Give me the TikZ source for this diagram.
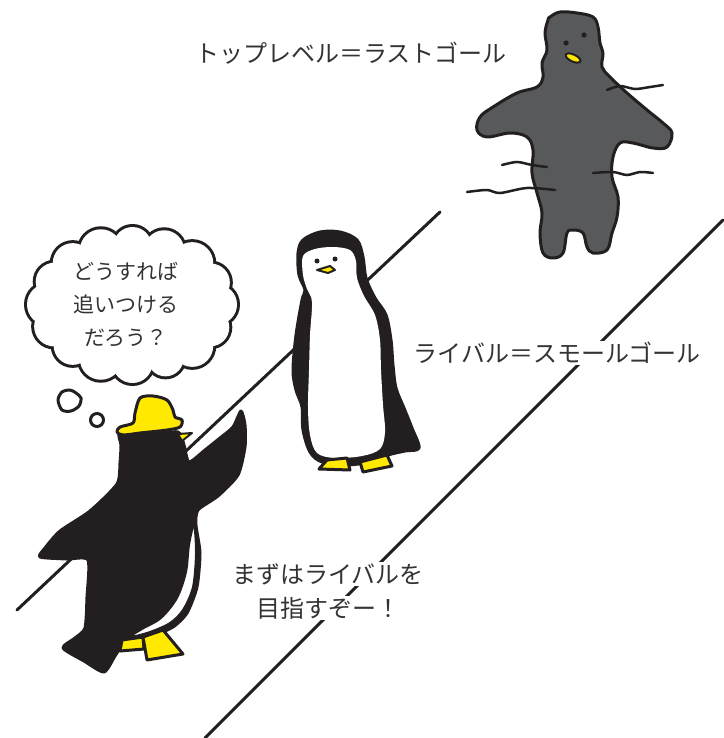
\documentclass[tikz,border=0pt]{standalone}
\usepackage{fontspec}
\newfontfamily\jpfont{Noto Sans CJK JP}
\usetikzlibrary{positioning}
\usepackage{xcolor}

\definecolor{ink}{HTML}{231F20}
\definecolor{pyellow}{HTML}{FFE900}
\definecolor{rockgray}{HTML}{58595B}
\definecolor{txtgray}{HTML}{333333}

\tikzset{
  outline/.style={draw=ink,line width=3pt,line join=round,line cap=round},
  road/.style={draw=ink,line width=3pt,line cap=round},
  wiggle/.style={draw=ink,line width=2.5pt,line cap=round},
  jptext/.style={font=\jpfont\fontsize{24pt}{28pt}\selectfont,text=txtgray,fill=white,inner sep=1pt},
  thinktext/.style={font=\jpfont\fontsize{21pt}{33pt}\selectfont,text=txtgray,align=center,inner sep=0pt}
}

\begin{document}
\begin{tikzpicture}[x=1pt,y=-1pt]
\useasboundingbox[fill=white] (0,0) rectangle (723,738);

% Strada
\draw[road] (440,212) -- (17,610);
\draw[road] (723,220) -- (205,738);

% Obiettivo finale (sagoma grigia)
\filldraw[outline,fill=rockgray] plot[smooth cycle,tension=0.6] coordinates {
  (550,17) (560,12) (577,13) (593,17) (598,27) (600,43) (603,53) (602,67)
  (610,77) (627,93) (647,110) (663,123) (672,133) (667,147) (653,148) (633,143)
  (620,143) (613,157) (612,177) (618,197) (617,217) (612,233) (607,250) (593,253)
  (587,247) (583,233) (573,230) (567,233) (563,253) (553,258) (543,253) (540,233)
  (542,213) (537,193) (532,173) (533,150) (527,137) (510,133) (487,137) (477,130)
  (480,117) (493,107) (517,93) (537,87) (543,77) (542,63) (547,50) (545,33) (548,20)};
\fill[ink] (566,43) circle (2.6pt) (584,35) circle (2.6pt);
\filldraw[fill=pyellow,draw=ink,line width=2pt,rotate around={-25:(573,58)}] (573,58) ellipse (8 and 3.5);
\draw[wiggle] plot[smooth] coordinates {(607,90) (620,86) (635,89) (650,87) (663,85)};
\draw[wiggle] plot[smooth] coordinates {(502,165) (517,162) (532,165) (547,167)};
\draw[wiggle] plot[smooth] coordinates {(467,192) (487,190) (500,193) (527,188) (555,190)};
\draw[wiggle] plot[smooth] coordinates {(593,173) (613,172) (627,175) (640,172) (653,173)};

% Pinguino rivale
\filldraw[outline,fill=ink] plot[smooth cycle,tension=0.55] coordinates {
  (298,253) (303,240) (320,232) (340,232) (357,240) (363,257) (366,278) (375,298)
  (386,315) (391,340) (393,365) (396,388) (404,408) (412,428) (419,448) (405,451)
  (388,455) (370,462) (345,465) (322,462) (310,452) (303,430) (302,407) (296,390)
  (293,370) (296,335) (302,300) (305,290) (299,275)};
\fill[white] plot[smooth cycle,tension=0.55] coordinates {
  (303,256) (315,249) (333,247) (350,250) (356,261) (357,278) (364,296) (375,315)
  (380,340) (381,370) (383,405) (385,432) (380,449) (362,456) (335,458) (317,453)
  (310,435) (308,407) (309,370) (310,335) (312,302) (307,289) (303,275)};
\fill[ink] (317,261) circle (2.5pt) (335,259) circle (2.5pt);
\filldraw[outline,line width=2pt,fill=pyellow] (317,270) -- (330,266) -- (335,270) -- (328,273) -- cycle;
\filldraw[outline,fill=pyellow] (319,469) -- (327,460) -- (347,458) -- (350,470) -- cycle;
\filldraw[outline,fill=pyellow] (360,462) -- (387,455) -- (392,466) -- (363,472) -- cycle;

% Nuvoletta
\begin{scope}[shift={(132.5,304.5)}]
  \foreach \a/\r in {0/20,23/19,45/21,67/18,90/20,112/21,135/19,158/20,
                     180/21,203/19,225/20,248/21,270/19,292/20,315/21,338/19}
    \draw[ink,line width=6pt] (\a:84.5 and 58.5) circle (\r);
  \foreach \a/\r in {0/20,23/19,45/21,67/18,90/20,112/21,135/19,158/20,
                     180/21,203/19,225/20,248/21,270/19,292/20,315/21,338/19}
    \fill[white] (\a:84.5 and 58.5) circle (\r);
  \fill[white] (0,0) ellipse (84.5 and 58.5);
\end{scope}
\filldraw[outline,fill=white] plot[smooth cycle] coordinates {
  (58,400) (62,392) (70,390) (76,393) (81,398) (79,406) (71,411) (62,410)};
\filldraw[outline,fill=white] (97,420) circle (6.5);
\node[thinktext] (thought) at (126,305) {どうすれば\\追いつける\\だろう？};

% Pinguino con cappello
\filldraw[outline,fill=ink] plot[smooth cycle,tension=0.4] coordinates {
  (120,433) (150,434) (178,432) (184,445) (189,462) (205,450) (220,438) (233,427)
  (241,411) (245,425) (245,447) (238,475) (218,496) (198,510) (196,525) (200,553)
  (197,587) (187,613) (173,627) (150,637) (125,643) (115,656) (104,672) (84,661)
  (63,648) (75,638) (85,628) (87,597) (88,560) (67,559) (40,557) (45,548)
  (60,531) (90,511) (117,484) (120,463) (121,445)};
\filldraw[outline,line width=2pt,fill=white] plot[smooth cycle,tension=0.5] coordinates {
  (194,525) (196,553) (193,587) (183,610) (170,623) (150,632) (130,637)
  (142,629) (161,618) (177,598) (186,572) (189,545)};
\filldraw[outline,fill=pyellow] (122,640) -- (143,637) -- (144,649) -- (120,651) -- cycle;
\filldraw[outline,fill=pyellow] (143,637) -- (163,630) -- (183,654) -- (147,660) -- cycle;
\filldraw[outline,fill=pyellow] plot[smooth cycle,tension=0.5] coordinates {
  (135,413) (140,398) (153,396) (167,400) (173,410) (175,417) (182,420) (180,427)
  (167,430) (140,433) (123,435) (117,432) (120,427) (133,423)};
\filldraw[outline,line width=2pt,fill=pyellow] (178,434) -- (192,433) -- (182,441) -- cycle;

% Scritte
\node[jptext] (lastgoal) at (351,53) {トップレベル＝ラストゴール};
\node[jptext] (smallgoal) at (557,353) {ライバル＝スモールゴール};
\node[jptext] (cheerA) at (328,574) {まずはライバルを};
\node[jptext,below=10pt of cheerA] (cheerB) {目指すぞー！};

\end{tikzpicture}
\end{document}
